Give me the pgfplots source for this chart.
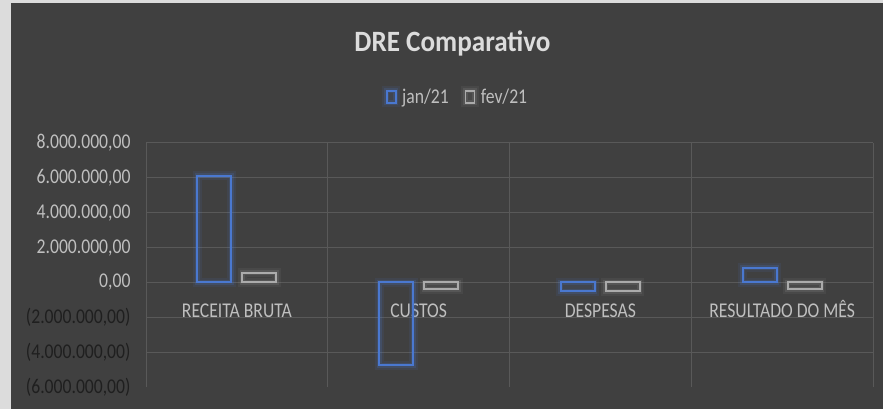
\documentclass[border=0pt]{standalone}
\usepackage{pgfplots}
\pgfplotsset{compat=1.18}
\usepackage{fontspec}
\setmainfont{Carlito}[FakeStretch=0.84]
\newfontfamily\titlefont{Carlito}[FakeStretch=0.92]
\definecolor{bg}{HTML}{404040}
\definecolor{strip}{HTML}{DCDCDC}
\definecolor{gridc}{HTML}{595959}
\definecolor{lab}{HTML}{BFBFBF}
\definecolor{neg}{HTML}{1F1F1F}
\definecolor{titlec}{HTML}{DCDCDC}
\definecolor{blue1}{HTML}{4A78D0}
\definecolor{gray1}{HTML}{ABABAB}
\begin{document}
\begin{tikzpicture}
\fill[bg] (0,0) rectangle (883pt,-409pt);
\fill[strip] (0,0) rectangle (11pt,-409pt);
\fill[strip] (0,0) rectangle (883pt,-3pt);
\begin{axis}[
  at={(146pt,-387pt)}, anchor=south west,
  scale only axis, width=727pt, height=244pt,
  xmin=-0.5, xmax=3.5, ymin=-6e6, ymax=8e6,
  scaled y ticks=false,
  ybar=11pt, bar width=34pt,
  axis line style={draw=none},
  major tick length=0pt, minor tick length=0pt,
  xtick={0,1,2,3},
  xticklabels={RECEITA BRUTA,CUSTOS,DESPESAS,RESULTADO DO MÊS},
  minor xtick={-0.5,0.5,1.5,2.5,3.5}, xminorgrids,
  ytick={-6e6,-4e6,-2e6,0,2e6,4e6,6e6,8e6},
  yticklabels={{\color{neg}(6.000.000,00)},{\color{neg}(4.000.000,00)},{\color{neg}(2.000.000,00)},{0,00},{2.000.000,00},{4.000.000,00},{6.000.000,00},{8.000.000,00}},
  extra y ticks={-4e6,-2e6,0,2e6,4e6,6e6,8e6},
  extra y tick labels={},
  extra y tick style={grid=major},
  major grid style={draw=gridc, line width=1pt},
  minor grid style={draw=gridc, line width=1pt},
  tick label style={font=\fontsize{21}{25}\selectfont, text=lab},
  yticklabel style={anchor=east, xshift=-12pt},
  xticklabel style={anchor=base, yshift=70pt},
  legend style={at={(axis description cs:0.426,1)}, anchor=center, yshift=46pt,
    draw=none, fill=none, text=lab, font=\fontsize{21}{25}\selectfont,
    legend columns=-1, /tikz/every even column/.append style={column sep=10pt},
    /tikz/every odd column/.append style={column sep=0pt}, inner sep=0pt},
]
\addplot[draw=blue1, line width=2pt, fill=none,
  preaction={draw=blue1, draw opacity=0.10, line width=9pt},
  preaction={draw=blue1, draw opacity=0.18, line width=5pt},
  legend image code/.code={\draw[blue1, line width=1.6pt] (0pt,-6pt) rectangle (9pt,6pt);}]
  coordinates {(0,6.12e6) (1,-4.74e6) (2,-0.52e6) (3,0.83e6)};
\addplot[draw=gray1, line width=2pt, fill=none,
  preaction={draw=gray1, draw opacity=0.08, line width=9pt},
  preaction={draw=gray1, draw opacity=0.15, line width=5pt},
  legend image code/.code={\draw[gray1, line width=1.6pt] (0pt,-6pt) rectangle (9pt,6pt);}]
  coordinates {(0,0.56e6) (1,-0.40e6) (2,-0.52e6) (3,-0.40e6)};
\legend{jan/21,fev/21}
\end{axis}
\node[anchor=base, text=titlec, font=\titlefont\bfseries\fontsize{29.5}{34}\selectfont] at (452.5pt,-51.7pt) {DRE Comparativo};
\end{tikzpicture}
\end{document}
